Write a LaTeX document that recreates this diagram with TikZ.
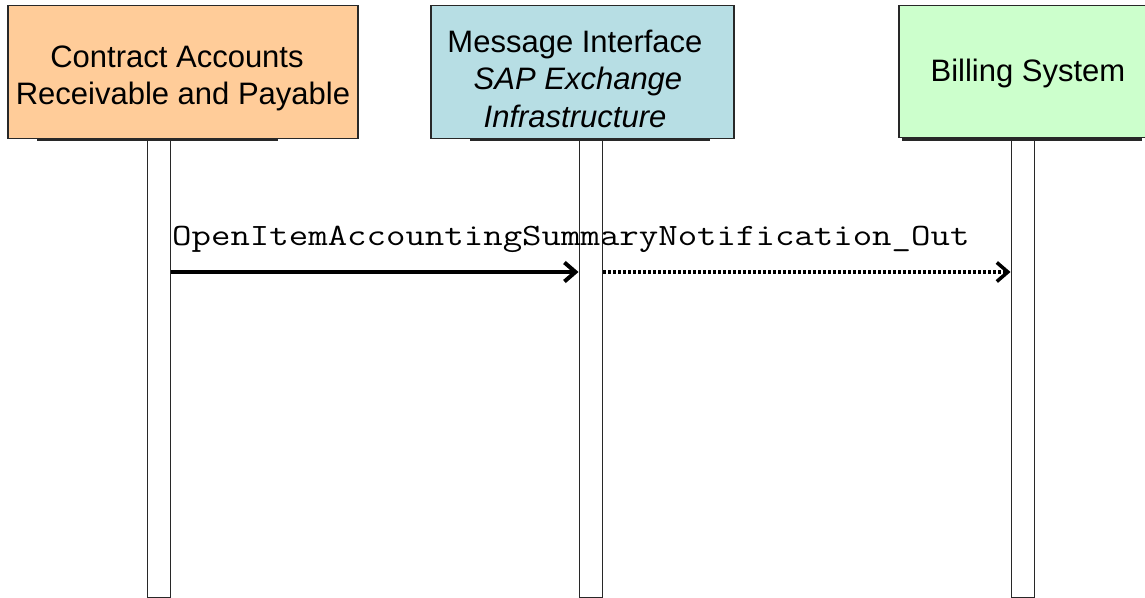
\documentclass[tikz,border=0pt]{standalone}
\usepackage{fontspec}
\usepackage{graphicx}
\setmainfont{Liberation Sans}
\usetikzlibrary{arrows.meta}
\definecolor{peach}{RGB}{255,204,153}
\definecolor{cyanbox}{RGB}{183,222,228}
\definecolor{greenbox}{RGB}{204,255,204}
\definecolor{edge}{RGB}{40,40,40}
\begin{document}
\begin{tikzpicture}[x=1bp,y=-1bp,
  partbox/.style={draw=edge,line width=1.5bp,rectangle,inner sep=0pt,anchor=north west},
  lifeline/.style={draw=edge,line width=1.5bp,fill=white,rectangle,inner sep=0pt,anchor=north west,minimum width=23bp,minimum height=457bp},
  boxtext/.style={anchor=base,inner sep=0pt,font=\fontsize{31bp}{37bp}\selectfont},
  shadowline/.style={draw=edge,line width=3bp},
  msglabel/.style={anchor=base west,inner sep=0pt,font=\ttfamily\fontsize{31bp}{36bp}\selectfont},
  syncmsg/.style={line width=4.5bp,-{Straight Barb[length=11bp,width=19bp,line width=4bp]}},
  asyncmsg/.style={line width=3.5bp,dash pattern=on 3bp off 2bp,-{Straight Barb[length=11bp,width=19bp,line width=3.5bp]}}
]
\useasboundingbox (0,0) rectangle (1145,598);
\clip (0,0) rectangle (1145,598);
% participant boxes
\node[partbox,fill=peach,minimum width=350bp,minimum height=133bp] (b1) at (7,5) {};
\node[partbox,fill=cyanbox,minimum width=303bp,minimum height=133bp] (b2) at (430,5) {};
\node[partbox,fill=greenbox,minimum width=262bp,minimum height=132bp] (b3) at (898,5) {};
% shadows
\coordinate (s1a) at (37,139.5); \coordinate (s1b) at (278,139.5);
\coordinate (s2a) at (470,139.5); \coordinate (s2b) at (710,139.5);
\coordinate (s3a) at (902,139.5); \coordinate (s3b) at (1142,139.5);
\draw[shadowline] (s1a) -- (s1b);
\draw[shadowline] (s2a) -- (s2b);
\draw[shadowline] (s3a) -- (s3b);
% texts
\node[boxtext] (t1a) at (177,68) {Contract Accounts};
\node[boxtext] (t1b) at (183,105) {Receivable and Payable};
\node[boxtext] (t2a) at (575,53) {Message Interface};
\node[boxtext] (t2b) at (578,90) {\itshape SAP Exchange};
\node[boxtext] (t2c) at (575,128) {\itshape Infrastructure};
\node[boxtext] (t3a) at (1028,82) {Billing System};
% lifelines
\node[lifeline] (l1) at (146.5,140) {};
\node[lifeline] (l2) at (578.5,140) {};
\node[lifeline] (l3) at (1010.5,140) {};
% message
\node[msglabel] (m) at (172,246) {\scalebox{1.218}[1]{OpenItemAccountingSummaryNotification\_Out}};
\draw[syncmsg] ([yshift=-132bp]l1.north east) -- ([yshift=-132bp]l2.north west);
\draw[asyncmsg] ([yshift=-132bp]l2.north east) -- ([yshift=-132bp]l3.north west);
\end{tikzpicture}
\end{document}
